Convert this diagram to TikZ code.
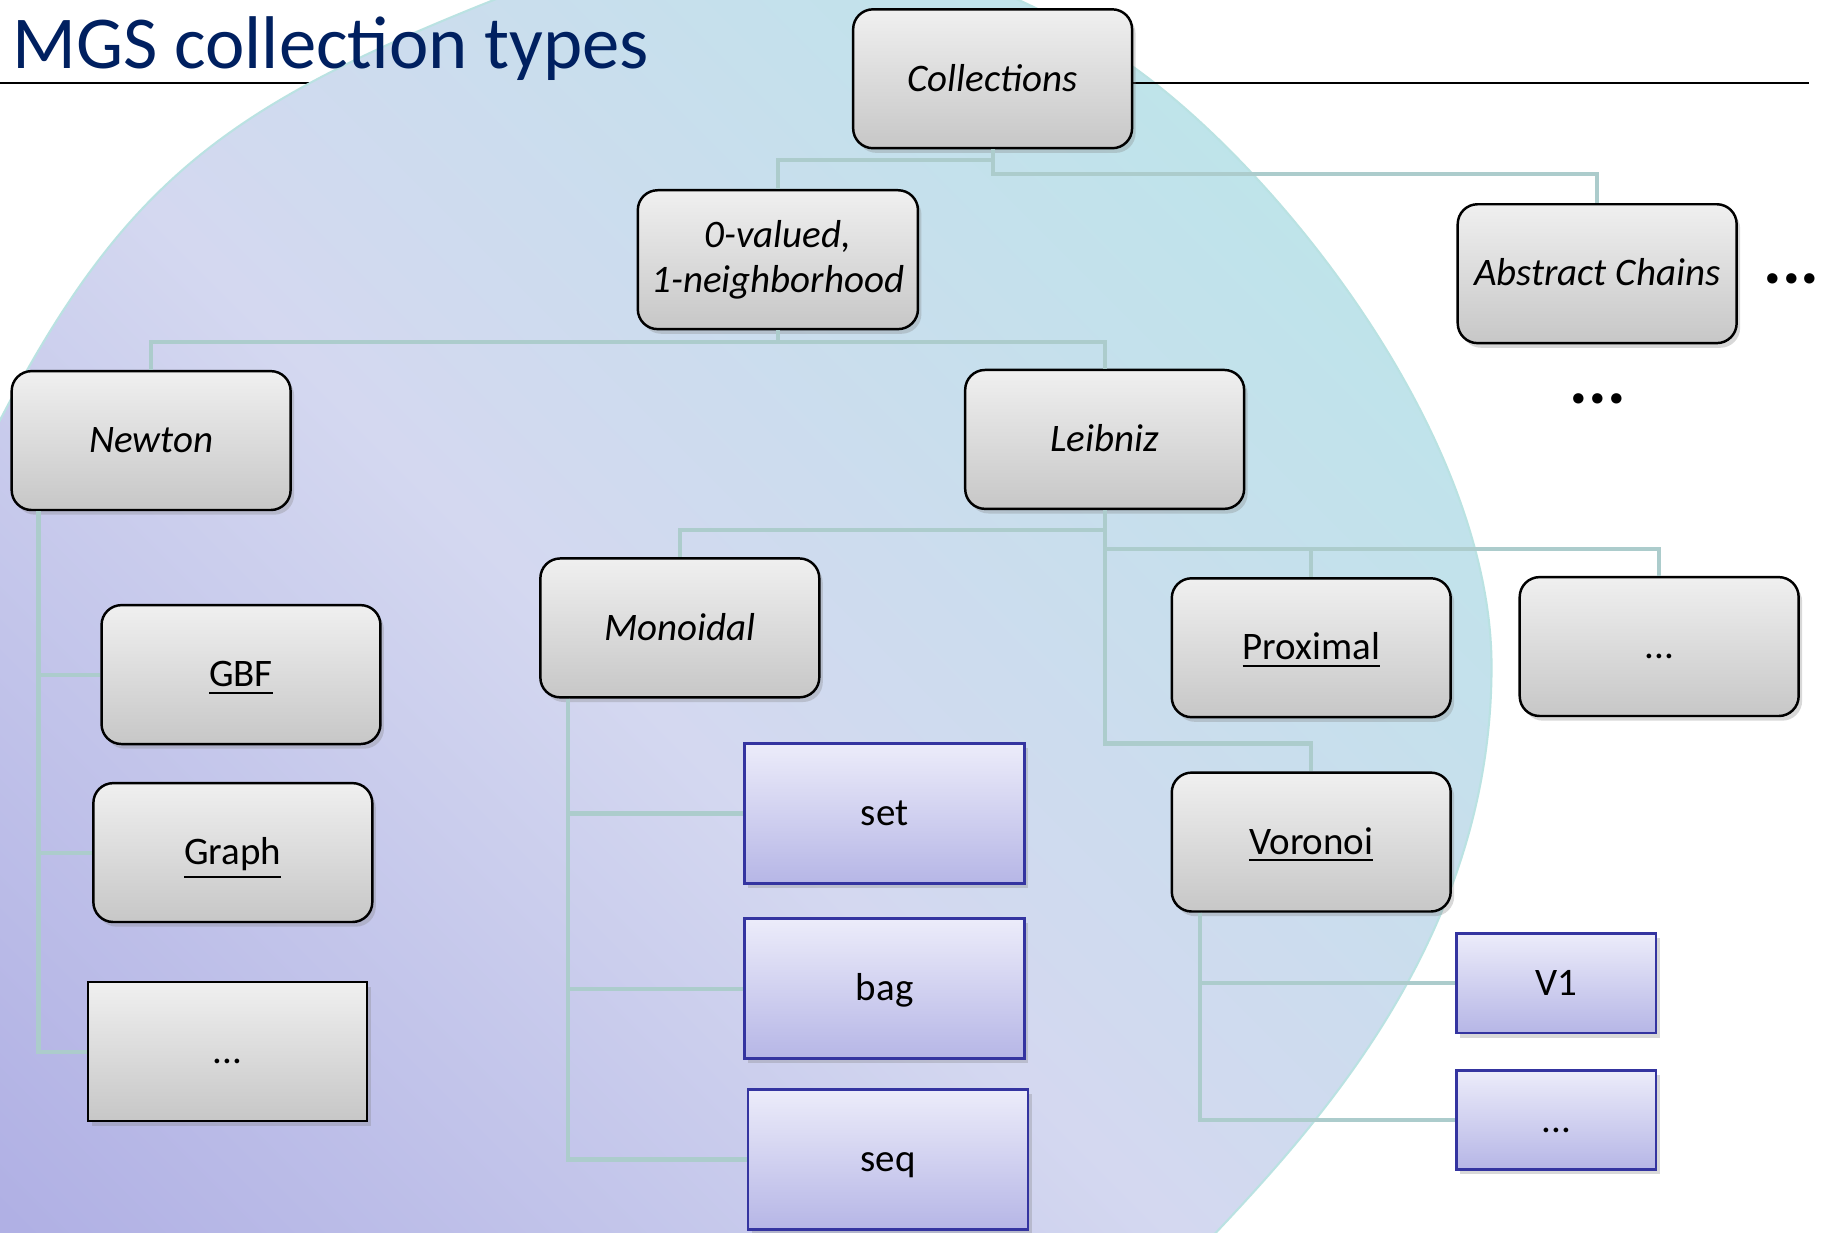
\documentclass[tikz,border=0pt]{standalone}
\usepackage{fontspec}
\setmainfont{Carlito}
\usetikzlibrary{positioning}
\usetikzlibrary{shadows}

\definecolor{titleblue}{RGB}{0,32,96}
\definecolor{linkcol}{RGB}{172,204,204}
\definecolor{bluedraw}{RGB}{52,52,160}
\definecolor{bluetop}{RGB}{236,236,250}
\definecolor{bluebot}{RGB}{182,182,230}
\definecolor{circtop}{RGB}{190,228,234}
\definecolor{circmid}{RGB}{212,216,240}
\definecolor{circbot}{RGB}{176,176,228}
\definecolor{circrim}{RGB}{186,226,226}

\tikzset{
  graybox/.style={rectangle,draw=black,line width=0.6pt,top color=black!6,bottom color=black!22,
    minimum width=2.39cm,minimum height=1.19cm,align=center,font=\fontsize{9.5}{11}\selectfont,
    drop shadow={shadow xshift=0.03cm,shadow yshift=-0.04cm,opacity=0.3}},
  catbox/.style={graybox,rounded corners=0.17cm},
  cattext/.style={font=\fontsize{9.5}{11}\selectfont\itshape},
  onerow/.style={text height=1.5ex,text depth=0.25ex},
  bluebox/.style={rectangle,draw=bluedraw,line width=0.6pt,top color=bluetop,bottom color=bluebot,
    minimum width=2.4cm,minimum height=1.2cm,font=\fontsize{9.5}{11}\selectfont,onerow,
    drop shadow={shadow xshift=0.03cm,shadow yshift=-0.04cm,opacity=0.3}},
  bigdots/.style={font=\fontsize{17}{20}\selectfont\bfseries},
  link/.style={draw=linkcol,line width=1pt}
}

\begin{document}
\begin{tikzpicture}
\clip (0,0) rectangle (15.68,10.56);
\fill[white] (0,0) rectangle (15.68,10.56);
\draw[black,line width=0.6pt] (0,9.85) -- (15.50,9.85);
\shade[top color=circtop,bottom color=circbot,middle color=circmid,shading angle=-45,draw=circrim,line width=0.5pt]
  (0,6.96) .. controls (1.08,9.04) and (2.0,9.67) .. (4.23,10.56)
  .. controls (6.28,11.37) and (8.20,11.12) .. (9.80,9.92)
  .. controls (11.08,8.96) and (12.78,6.75) .. (12.78,4.85)
  .. controls (12.78,2.6) and (11.38,1.02) .. (10.42,0)
  -- (9.5,-1) -- (-3,-1) -- (-1.8,3.4) -- cycle;
\draw[black,line width=0.6pt] (9.70,9.85) -- (15.50,9.85);

\node[anchor=base west,inner sep=0pt,text=titleblue,font=\fontsize{18.2}{22}\selectfont] (T) at (0.10,9.975) {MGS collection types};

\node[catbox,cattext,onerow] (Col) at (8.505,9.885) {Collections};
\node[catbox,cattext] (Zero) at (6.665,8.335) {0-valued,\\1-neighborhood};
\node[catbox,cattext,onerow] (Abs) at (13.685,8.215) {Abstract Chains};
\node[bigdots] (AbsMore) at (15.35,8.17) {...};
\node[bigdots] (ColMore) at (13.69,7.14) {...};

\node[catbox,cattext,onerow] (New) at (1.295,6.785) {Newton};
\node[catbox,cattext,onerow] (Lei) at (9.465,6.795) {Leibniz};

\node[catbox,onerow] (GBF) at (2.065,4.78) {\underline{GBF}};
\node[catbox,onerow] (Gra) at (1.995,3.255) {\underline{Graph}};
\node[graybox,onerow] (NDots) at (1.95,1.55) {...};

\node[catbox,cattext,onerow] (Mon) at (5.825,5.18) {Monoidal};
\node[bluebox] (Set) at (7.58,3.59) {set};
\node[bluebox,below=0.28cm of Set] (Bag) {bag};
\node[bluebox] (Seq) at (7.61,0.625) {seq};

\node[catbox,onerow] (Prox) at (11.235,5.01) {\underline{Proximal}};
\node[catbox,onerow,right=0.57cm of Prox,yshift=0.01cm] (LDots) {...};
\node[catbox,onerow] (Vor) at (11.235,3.345) {\underline{Voronoi}};
\node[bluebox,minimum width=1.71cm,minimum height=0.85cm] (V1) at (13.335,2.135) {V1};
\node[bluebox,minimum width=1.71cm,minimum height=0.85cm,below=0.30cm of V1] (VDots) {...};

\draw[link] (Col.south) -- ++(0,-0.09) -| (Zero.north);
\draw[link] (Col.south) -- ++(0,-0.21) -| (Abs.north);
\draw[link] (Zero.south) -- ++(0,-0.10) -| (New.north);
\draw[link] (Zero.south) -- ++(0,-0.10) -| (Lei.north);

\draw[link] ([xshift=0.24cm]New.south west) |- (GBF.west);
\draw[link] ([xshift=0.24cm]New.south west) |- (Gra.west);
\draw[link] ([xshift=0.24cm]New.south west) |- (NDots.west);

\draw[link] (Lei.south) -- ++(0,-0.17) -| (Mon.north);
\draw[link] (Lei.south) -- ++(0,-0.33) -| (Prox.north);
\draw[link] (Lei.south) -- ++(0,-0.33) -| (LDots.north);
\draw[link] (Lei.south) -- ++(0,-2.00) -| (Vor.north);

\draw[link] ([xshift=0.25cm]Mon.south west) |- (Set.west);
\draw[link] ([xshift=0.25cm]Mon.south west) |- (Bag.west);
\draw[link] ([xshift=0.25cm]Mon.south west) |- (Seq.west);

\draw[link] ([xshift=0.25cm]Vor.south west) |- (V1.west);
\draw[link] ([xshift=0.25cm]Vor.south west) |- (VDots.west);

\end{tikzpicture}
\end{document}
